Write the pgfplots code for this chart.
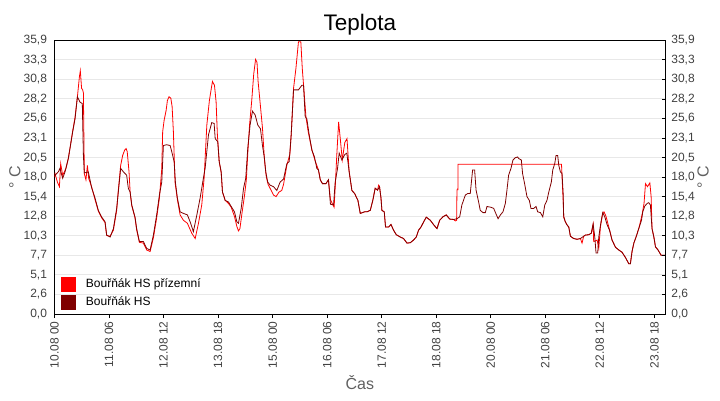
\documentclass[border=0pt]{standalone}
\usepackage{fontspec}
\setmainfont{Liberation Sans}
\usepackage{pgfplots}
\pgfplotsset{compat=1.18}
\definecolor{hsdark}{RGB}{128,0,0}
\definecolor{ticktext}{RGB}{64,64,64}
\definecolor{labeltext}{RGB}{96,96,96}
\definecolor{gridc}{RGB}{232,232,232}
\newcommand{\fs}[1]{\fontsize{#1}{#1}\selectfont}

\pgfplotsset{
  base/.style={
    scale only axis, width=610.8pt, height=273.7pt,
    anchor=south west, at={(54.5pt,86pt)},
    xmin=0, xmax=336, ymin=0, ymax=35.9,
    ytick={0,2.5643,5.1286,7.6929,10.2571,12.8214,15.3857,17.95,20.5143,23.0786,25.6429,28.2071,30.7714,33.3357,35.9},
    yticklabels={{0,0},{2,6},{5,1},{7,7},{10,3},{12,8},{15,4},{18,0},{20,5},{23,1},{25,6},{28,2},{30,8},{33,3},{35,9}},
    axis line style={black, line width=1pt},
    yticklabel style={font=\fs{12}, text=ticktext},
  }
}

\begin{document}
\begin{tikzpicture}
\path[use as bounding box] (0,0) rectangle (720pt,400pt);

\begin{axis}[base,
  ymajorgrids=true,
  major grid style={gridc, line width=1pt},
  xtick={0,30,60,90,120,150,180,210,240,270,300,330},
  xticklabels={{10.08 00},{11.08 06},{12.08 12},{13.08 18},{15.08 00},{16.08 06},{17.08 12},{18.08 18},{20.08 00},{21.08 06},{22.08 12},{23.08 18}},
  xtick pos=left,
  ytick pos=left,
  tick align=outside,
  major tick length=4pt,
  xtick style={black, line width=0.8pt},
  ytick style={draw=none},
  xticklabel style={rotate=90, anchor=east, font=\fs{12}, text=ticktext},
  xlabel={Čas},
  xlabel style={at={(axis description cs:0.5,-0.252)}, anchor=center, font=\fs{16}, text=labeltext},
  ylabel={° C},
  ylabel style={at={(axis description cs:-0.0647,0.5)}, anchor=center, font=\fs{16}, text=labeltext},
  title={Teplota},
  title style={at={(axis description cs:0.5,1.035)}, anchor=center, font=\fs{22.5}},
  legend style={at={(axis description cs:0.0106,0.137)}, anchor=north west, draw=none, fill=none,
    inner sep=0pt, font=\fs{12}, row sep=3pt, cells={anchor=west},
    /tikz/every odd column/.append style={column sep=8pt}},
  legend image code/.code={\fill[#1] (0pt,-7pt) rectangle (14pt,7pt);},
]
\addplot[color=red, line width=0.8pt, sharp plot] table {
0 18.0
0.3 18.4
1.6 17.3
2.7 16.7
3.4 19.7
4.5 18.2
6.3 19.1
7.6 20.4
8.5 21.7
10.0 24.0
11.3 25.8
12.6 28.5
13.7 31.1
14.2 31.9
14.9 29.6
15.5 29.4
15.9 29.0
16.4 18.4
17.3 17.6
18.1 19.5
18.8 17.8
20.5 16.6
22.3 15.0
24.1 13.5
26.0 12.6
27.8 12.0
28.7 10.3
30.6 10.2
32.4 11.0
34.2 13.6
35.1 16.2
36.4 19.5
37.5 20.8
38.6 21.5
39.4 21.7
40.0 21.3
41.0 18.65
41.6 16.0
42.5 14.2
44.3 12.6
45.2 11.0
46.7 9.4
48.9 9.3
50.7 8.4
52.6 8.2
54.4 10.0
56.2 12.6
57.7 15.2
59.0 19.0
59.5 23.9
60.3 25.4
61.4 26.7
62.1 28.0
63.0 28.5
64.0 28.3
64.7 27.2
65.4 23.9
66.3 17.3
67.6 15.0
69.1 13.0
70.9 12.3
73.1 11.9
75.5 10.6
77.4 9.9
79.2 11.9
81.0 14.3
82.3 17.8
83.8 24.8
85.2 28.0
86.2 29.5
86.9 30.5
88.0 30.0
88.9 27.8
89.6 23.5
90.6 20.0
91.7 18.5
92.4 16.0
93.9 14.9
95.7 14.5
97.2 14.0
99.0 12.8
100.3 11.5
101.2 10.9
102.0 11.2
103.0 13.0
104.5 15.5
105.5 17.5
106.3 21.0
107.3 24.8
108.5 28.0
109.6 31.5
110.6 33.4
111.4 33.0
112.0 30.5
112.8 28.5
114.4 24.4
115.5 20.2
116.5 18.0
117.5 17.0
119.0 16.3
120.5 15.6
121.9 15.4
123.5 16.0
125.0 16.2
126.0 17.0
127.8 19.5
129.5 21.0
130.2 23.5
131.5 29.6
132.8 32.2
134.2 35.7
135.5 35.7
136.3 32.2
137.3 29.1
138.3 25.9
139.5 24.0
141.6 21.5
143.5 20.0
145.2 18.9
146.2 17.6
147.4 17.1
149.3 17.1
150.7 17.6
151.8 15.0
153.8 14.0
154.5 17.0
155.3 20.9
156.3 25.2
157.2 23.0
158.3 20.2
159.7 22.5
160.9 23.0
162.1 18.65
163.6 16.2
165.1 15.8
166.9 14.9
168.2 13.2
170.6 13.4
171.9 13.4
173.7 13.6
175.1 14.9
176.4 16.5
177.7 16.25
178.3 16.9
178.8 16.7
179.6 15.2
180.1 13.6
181.4 13.4
182.1 11.4
183.8 11.4
185.1 11.75
186.5 11.0
188.0 10.4
190.2 10.1
192.0 9.9
193.9 9.3
195.7 9.35
197.5 9.7
199.0 10.1
200.3 11.0
201.6 11.4
203.1 12.1
204.5 12.7
206.7 12.3
208.6 11.7
210.4 11.2
211.9 12.3
213.7 12.75
215.5 13.0
217.4 12.45
219.6 12.4
220.5 12.2
221.2 12.3
221.4 16.3
221.9 16.3
222.0 19.65
278.9 19.65
279.3 17.5
279.8 15.0
280.1 12.75
281.0 12.1
281.9 11.7
282.9 11.4
283.8 10.2
285.6 9.9
287.5 9.8
289.3 9.9
290.2 9.3
291.1 10.2
292.0 10.35
293.9 10.4
295.3 10.6
296.3 11.8
296.6 9.5
298.5 9.7
299.4 8.6
300.3 11.4
301.6 13.3
302.3 13.4
303.4 12.8
305.8 10.6
306.7 9.7
308.6 8.75
310.4 8.4
312.2 8.1
314.1 7.4
315.9 6.6
316.8 6.6
317.7 8.2
318.7 9.3
319.9 10.1
321.4 11.2
323.2 13.0
324.3 14.5
325.1 17.1
326.2 16.7
327.5 17.2
328.2 15.4
328.7 11.2
329.7 10.1
330.6 8.8
332.0 8.4
333.7 7.7
336.0 7.7
};
\addlegendentry{Bouřňák HS přízemní}
\addplot[color=hsdark, line width=0.8pt, sharp plot] table {
0 18.0
0.3 18.2
2.1 18.65
3.0 19.1
4.5 17.8
5.8 18.65
7.6 20.4
8.5 21.7
10.0 23.9
11.3 25.6
12.6 28.5
14.0 27.8
15.3 27.6
15.9 20.8
16.4 18.5
18.6 18.65
20.5 16.5
22.3 15.2
24.1 13.6
26.0 12.7
27.8 12.1
28.7 10.35
30.6 10.1
32.4 11.2
34.2 13.85
35.1 16.0
36.4 19.1
37.9 18.65
39.7 18.2
40.6 16.5
41.6 16.0
42.5 14.3
44.3 12.7
45.2 11.2
46.7 9.5
48.9 9.5
50.7 8.6
52.6 8.4
54.4 10.35
56.2 13.0
57.7 15.6
59.0 17.3
59.9 22.1
61.7 22.2
63.6 22.1
64.5 21.3
65.8 20.0
66.5 17.3
67.6 15.2
69.1 13.4
70.9 13.2
73.1 13.0
74.6 12.1
76.4 10.8
78.3 13.0
80.1 15.2
81.9 17.8
82.85 19.1
84.7 23.5
86.5 25.1
87.8 25.0
88.4 23.0
89.8 22.6
90.6 20.0
91.7 18.65
92.4 16.0
93.9 14.9
95.7 14.7
97.2 14.1
99.0 13.4
100.3 12.1
101.2 11.9
102.7 13.85
104.0 16.5
105.2 17.8
106.3 21.7
107.6 24.8
108.9 26.6
110.4 26.1
111.8 24.8
113.3 24.3
114.4 22.1
115.5 20.4
116.2 18.65
117.3 17.3
118.6 16.9
120.5 16.7
122.3 16.2
124.1 17.3
126.0 17.7
127.8 19.7
129.1 20.0
130.2 23.5
131.5 29.4
134.2 29.4
136.1 30.0
137.0 30.0
137.9 25.9
138.8 25.6
140.1 23.5
141.6 21.5
143.0 20.6
144.3 19.1
145.2 18.9
146.2 17.6
147.4 17.1
149.3 17.1
150.7 17.6
151.8 14.4
153.5 14.3
154.4 17.3
155.7 19.1
156.6 21.1
158.1 20.2
159.6 20.9
160.8 21.1
162.1 18.65
163.6 16.2
165.1 15.8
166.9 14.9
168.2 13.2
170.6 13.4
171.9 13.4
173.7 13.6
175.1 14.9
176.4 16.5
177.7 16.25
178.8 16.7
179.6 15.2
180.1 13.6
181.4 13.4
182.1 11.4
183.8 11.4
185.1 11.75
186.5 11.0
188.0 10.4
190.2 10.1
192.0 9.9
193.9 9.3
195.7 9.35
197.5 9.7
199.0 10.1
200.3 11.0
201.6 11.4
203.1 12.1
204.5 12.7
206.7 12.3
208.6 11.7
210.4 11.2
211.9 12.3
213.7 12.75
215.5 13.0
217.4 12.45
219.6 12.4
221.4 12.5
222.9 12.75
224.1 14.3
226.0 15.6
227.3 15.8
228.7 15.8
230.0 18.9
231.1 18.9
231.9 16.25
233.3 14.7
234.2 13.6
235.7 13.3
237.0 13.3
237.9 14.1
240.1 14.0
241.6 13.85
243.1 13.0
244.0 12.5
245.3 13.0
246.7 13.4
248.0 14.5
248.9 16.25
249.8 18.2
251.1 19.1
252.2 20.2
253.5 20.5
254.8 20.6
255.3 20.4
256.8 20.2
257.5 18.4
258.6 17.1
259.9 15.4
261.2 14.9
262.1 13.85
263.6 13.85
264.9 14.1
265.8 13.4
267.3 13.3
268.6 12.75
269.7 14.3
270.9 14.9
271.9 16.0
273.3 17.3
274.1 18.9
275.2 19.75
275.9 20.8
276.8 20.8
277.4 19.5
278.3 18.65
279.2 18.4
279.8 15.8
280.1 12.75
281.0 12.1
281.9 11.7
282.9 11.4
283.8 10.2
285.6 9.9
287.5 9.8
289.3 9.9
291.1 10.2
292.0 10.35
293.9 10.4
295.3 10.6
296.3 11.8
297.2 10.1
297.9 8.0
298.8 8.0
299.4 10.1
300.5 11.9
301.6 13.3
302.7 12.75
304.0 11.7
305.3 11.0
306.7 9.7
308.6 8.75
310.4 8.4
312.2 8.1
314.1 7.4
315.9 6.6
316.8 6.6
317.7 8.2
318.7 9.3
319.9 10.1
321.4 11.2
322.9 12.3
323.6 13.4
324.7 14.15
326.0 14.5
326.9 14.6
327.8 14.3
328.7 11.2
329.7 10.1
330.6 8.8
332.0 8.4
333.7 7.7
336.0 7.7
};
\addlegendentry{Bouřňák HS}
\end{axis}

\begin{axis}[base,
  axis x line=none,
  axis y line*=right,
  ytick pos=right,
  yticklabel pos=right,
  tick align=inside,
  major tick length=3.5pt,
  ytick style={black, line width=0.8pt},
  yticklabel style={anchor=west, xshift=2.5pt},
  ylabel={° C},
  every axis y label/.style={at={(axis description cs:1.0617,0.5)}, rotate=90, anchor=center},
  ylabel style={font=\fs{16}, text=labeltext},
]
\end{axis}
\end{tikzpicture}
\end{document}
